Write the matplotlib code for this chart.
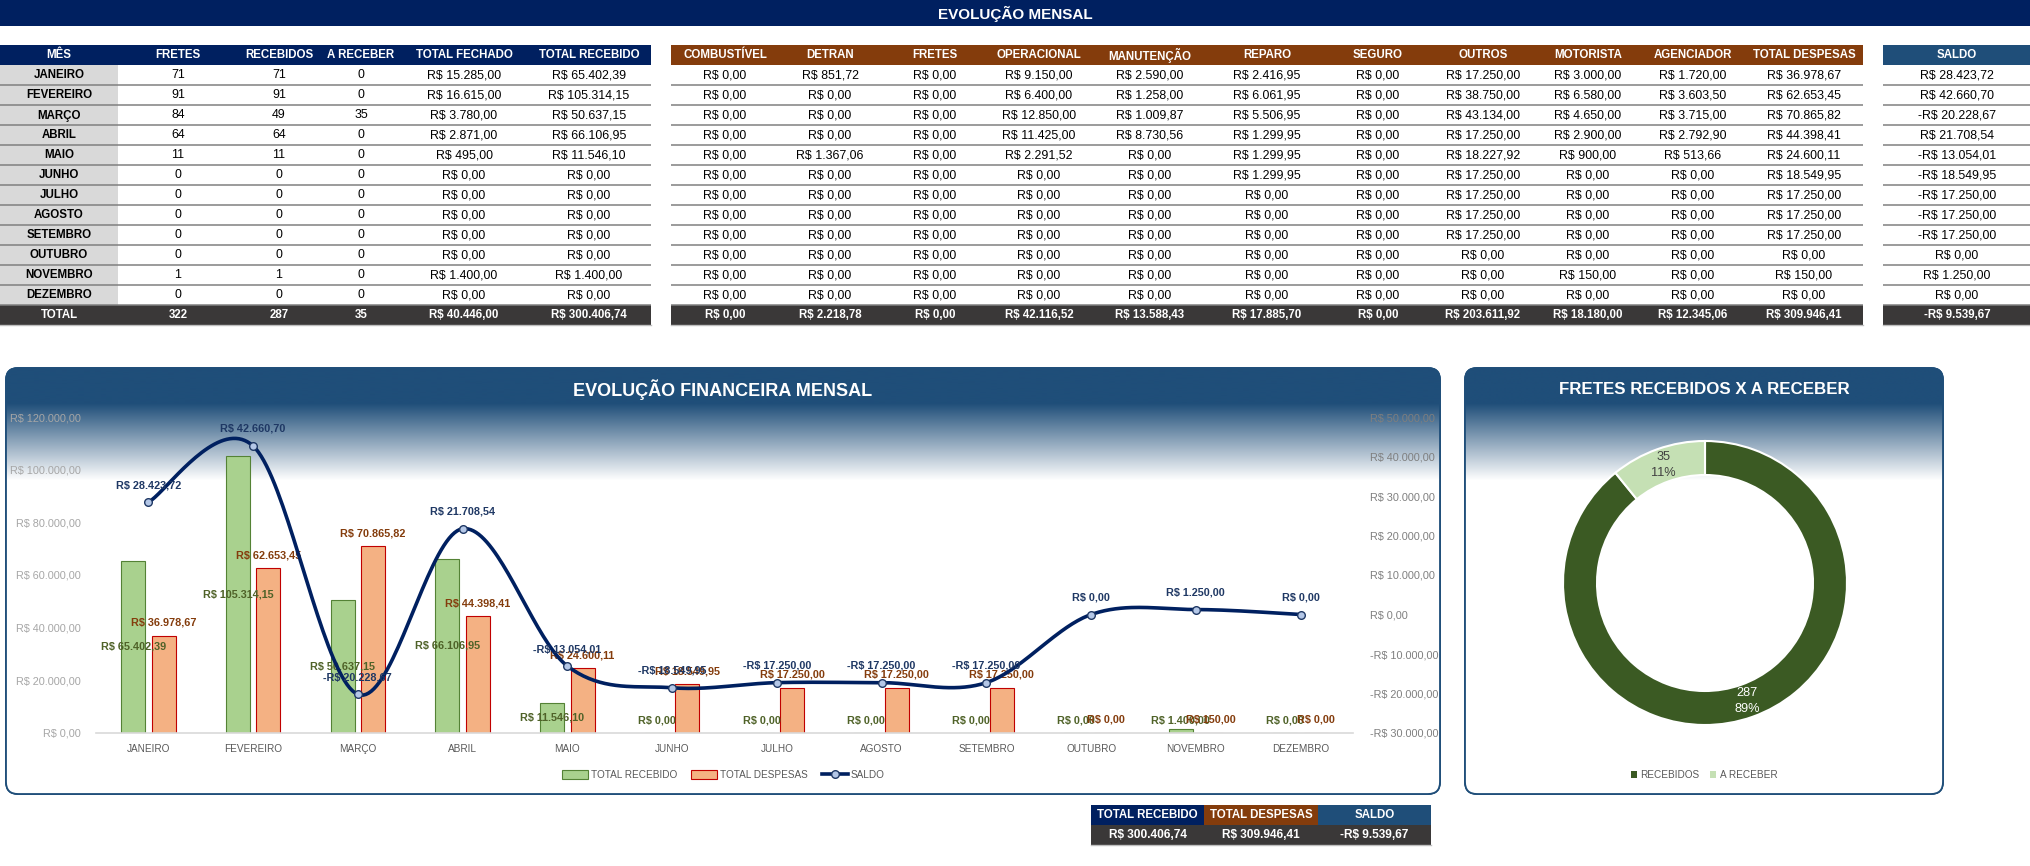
import numpy as np
import matplotlib
matplotlib.use("Agg")
import matplotlib.pyplot as plt
from matplotlib.patches import Rectangle, FancyBboxPatch, Patch
from matplotlib.lines import Line2D

plt.rcParams['font.family'] = ['Liberation Sans', 'DejaVu Sans']

# ---------------- DATA ----------------
meses = ["JANEIRO", "FEVEREIRO", "MARÇO", "ABRIL", "MAIO", "JUNHO", "JULHO",
         "AGOSTO", "SETEMBRO", "OUTUBRO", "NOVEMBRO", "DEZEMBRO"]
fretes = [71, 91, 84, 64, 11, 0, 0, 0, 0, 0, 1, 0]
recebidos = [71, 91, 49, 64, 11, 0, 0, 0, 0, 0, 1, 0]
a_receber = [0, 0, 35, 0, 0, 0, 0, 0, 0, 0, 0, 0]
total_fechado = [15285.00, 16615.00, 3780.00, 2871.00, 495.00, 0, 0, 0, 0, 0, 1400.00, 0]
total_recebido = [65402.39, 105314.15, 50637.15, 66106.95, 11546.10, 0, 0, 0, 0, 0, 1400.00, 0]

combustivel = [0] * 12
detran = [851.72, 0, 0, 0, 1367.06, 0, 0, 0, 0, 0, 0, 0]
fretes_desp = [0] * 12
operacional = [9150.00, 6400.00, 12850.00, 11425.00, 2291.52, 0, 0, 0, 0, 0, 0, 0]
manutencao = [2590.00, 1258.00, 1009.87, 8730.56, 0, 0, 0, 0, 0, 0, 0, 0]
reparo = [2416.95, 6061.95, 5506.95, 1299.95, 1299.95, 1299.95, 0, 0, 0, 0, 0, 0]
seguro = [0] * 12
outros = [17250.00, 38750.00, 43134.00, 17250.00, 18227.92, 17250.00, 17250.00,
          17250.00, 17250.00, 0, 0, 0]
motorista = [3000.00, 6580.00, 4650.00, 2900.00, 900.00, 0, 0, 0, 0, 0, 150.00, 0]
agenciador = [1720.00, 3603.50, 3715.00, 2792.90, 513.66, 0, 0, 0, 0, 0, 0, 0]
total_despesas = [36978.67, 62653.45, 70865.82, 44398.41, 24600.11, 18549.95,
                  17250.00, 17250.00, 17250.00, 0, 150.00, 0]
saldo = [28423.72, 42660.70, -20228.67, 21708.54, -13054.01, -18549.95,
         -17250.00, -17250.00, -17250.00, 0, 1250.00, 0]

donut_labels = ["RECEBIDOS", "A RECEBER"]
donut_values = [287, 35]

# ---------------- HELPERS ----------------
def brl(v):
    v = round(v, 2)
    s = f"{abs(v):,.2f}".replace(",", "X").replace(".", ",").replace("X", ".")
    return ("-" if v < 0 else "") + "R$ " + s

W, H = 2031, 866
fig = plt.figure(figsize=(W / 100, H / 100), dpi=100)
fig.patch.set_facecolor("white")

bg = fig.add_axes([0, 0, 1, 1], zorder=0)
bg.set_xlim(0, W)
bg.set_ylim(H, 0)
bg.axis("off")

NAVY = "#002060"
BROWN = "#843C0C"
BLUE = "#1F4E79"
DARK = "#3A3838"
LINEC = "#808080"

# banner
bg.add_patch(Rectangle((0, 0), W, 26, color=NAVY, lw=0))
bg.text(W / 2, 13.5, "EVOLUÇÃO MENSAL", color="white", fontsize=11, fontweight="bold",
        ha="center", va="center")

HDR_TOP, HDR_H, ROW_H = 45, 20, 20
FS_DATA = 8.9
FS_BOLD = 8.3


def draw_table(x0, x1, centers, headers, columns, hdr_color, bold_first=False,
               gray_first=None):
    bg.add_patch(Rectangle((x0, HDR_TOP), x1 - x0, HDR_H, color=hdr_color, lw=0))
    for c, h in zip(centers, headers):
        bg.text(c, HDR_TOP + HDR_H / 2 + 0.5, h, color="white", fontsize=FS_BOLD,
                fontweight="bold", ha="center", va="center")
    nrows = len(columns[0]) - 1
    for r in range(nrows + 1):
        top = HDR_TOP + HDR_H + r * ROW_H
        is_total = r == nrows
        if is_total:
            bg.add_patch(Rectangle((x0, top), x1 - x0, ROW_H, color=DARK, lw=0))
        elif gray_first is not None:
            bg.add_patch(Rectangle((x0, top), gray_first - x0, ROW_H, color="#D9D9D9", lw=0))
        for ci, (c, col) in enumerate(zip(centers, columns)):
            txt = col[r]
            bold = is_total or (bold_first and ci == 0)
            bg.text(c, top + ROW_H / 2 + 0.5, txt, color="white" if is_total else "black",
                    fontsize=FS_BOLD if bold else FS_DATA,
                    fontweight="bold" if bold else "normal",
                    ha="center", va="center")
        if not is_total:
            bg.plot([x0, x1], [top + ROW_H, top + ROW_H], color=LINEC, lw=1.1,
                    solid_capstyle="butt")
    bg.plot([x0, x1], [HDR_TOP + HDR_H + (nrows + 1) * ROW_H] * 2, color="#BFBFBF", lw=1.0)


def col_int(vals):
    return [str(v) for v in vals] + [str(sum(vals))]


def col_brl(vals):
    return [brl(v) for v in vals] + [brl(sum(vals))]


# table 1
draw_table(0, 651, [59, 178, 279, 361, 464, 589],
           ["MÊS", "FRETES", "RECEBIDOS", "A RECEBER", "TOTAL FECHADO", "TOTAL RECEBIDO"],
           [meses + ["TOTAL"], col_int(fretes), col_int(recebidos), col_int(a_receber),
            col_brl(total_fechado), col_brl(total_recebido)],
           NAVY, bold_first=True, gray_first=118)

# table 2
draw_table(671, 1863, [725, 830, 935, 1039, 1150, 1267, 1378, 1483, 1588, 1693, 1804],
           ["COMBUSTÍVEL", "DETRAN", "FRETES", "OPERACIONAL", "MANUTENÇÃO", "REPARO",
            "SEGURO", "OUTROS", "MOTORISTA", "AGENCIADOR", "TOTAL DESPESAS"],
           [col_brl(combustivel), col_brl(detran), col_brl(fretes_desp), col_brl(operacional),
            col_brl(manutencao), col_brl(reparo), col_brl(seguro), col_brl(outros),
            col_brl(motorista), col_brl(agenciador), col_brl(total_despesas)],
           BROWN)

# saldo table
draw_table(1883, 2031, [1957], ["SALDO"], [col_brl(saldo)], BLUE)


# ---------------- PANELS ----------------
def panel(x0, y0, x1, y1):
    p = FancyBboxPatch((x0, y0), x1 - x0, y1 - y0,
                       boxstyle="round,pad=0,rounding_size=12",
                       facecolor="white", edgecolor=BLUE, lw=1.3, zorder=1)
    bg.add_patch(p)
    n = 400
    ys = np.linspace(y0, y1, n)
    t = np.clip((ys - 403) / (480 - 403), 0, 1)
    top = np.array([0x1F, 0x4E, 0x79]) / 255.0
    cols = top[None, :] * (1 - t[:, None]) + np.ones(3)[None, :] * t[:, None]
    img = cols[:, None, :]
    im = bg.imshow(img, extent=(x0, x1, y1, y0), origin="upper", aspect="auto",
                   interpolation="bilinear", zorder=1.1)
    im.set_clip_path(p)
    p2 = FancyBboxPatch((x0, y0), x1 - x0, y1 - y0,
                        boxstyle="round,pad=0,rounding_size=12",
                        facecolor="none", edgecolor=BLUE, lw=1.3, zorder=1.2)
    bg.add_patch(p2)


panel(6, 368, 1440, 794)
panel(1465, 368, 1943, 794)
bg.text(723, 390, "EVOLUÇÃO FINANCEIRA MENSAL", color="white", fontsize=13,
        fontweight="bold", ha="center", va="center", zorder=3)
bg.text(1704, 390, "FRETES RECEBIDOS X A RECEBER", color="white", fontsize=12.2,
        fontweight="bold", ha="center", va="center", zorder=3)

# summary box
sx = [1091, 1204.3, 1317.7, 1431]
for i, (h, c, v) in enumerate(zip(["TOTAL RECEBIDO", "TOTAL DESPESAS", "SALDO"],
                                  [NAVY, BROWN, BLUE],
                                  [sum(total_recebido), sum(total_despesas), sum(saldo)])):
    bg.add_patch(Rectangle((sx[i], 805), sx[i + 1] - sx[i], 20, color=c, lw=0))
    bg.add_patch(Rectangle((sx[i], 825), sx[i + 1] - sx[i], 20, color=DARK, lw=0))
    xc = (sx[i] + sx[i + 1]) / 2
    bg.text(xc, 815.5, h, color="white", fontsize=8.3, fontweight="bold", ha="center", va="center")
    bg.text(xc, 835.5, brl(v), color="white", fontsize=8.6, fontweight="bold", ha="center", va="center")
bg.plot([1091, 1431], [845, 845], color="#BFBFBF", lw=1.0)

# ---------------- COMBO CHART ----------------
L, R, B, T = 96, 1353, 733, 417
ax = fig.add_axes([L / W, (H - B) / H, (R - L) / W, (B - T) / H], zorder=2)
ax.patch.set_alpha(0)
x = np.arange(len(meses))
bw, off = 0.23, 0.145
GREEN_F, GREEN_E = "#A9D18E", "#548235"
OR_F, OR_E = "#F4B183", "#C00000"
ax.bar(x - off, total_recebido, bw, color=GREEN_F, edgecolor=GREEN_E, lw=0.8, zorder=2)
ax.bar(x + off, total_despesas, bw, color=OR_F, edgecolor=OR_E, lw=0.8, zorder=2)
ax.set_xlim(-0.5, len(meses) - 0.5)
ax.set_ylim(0, 120000)
ax.set_yticks(np.arange(0, 120001, 20000))
ax.set_yticklabels([brl(v) for v in np.arange(0, 120001, 20000)])
ax.set_xticks(x)
ax.set_xticklabels(meses)
ax.tick_params(axis="y", length=0, pad=11, labelsize=7.8, labelcolor="#A6A6A6")
ax.tick_params(axis="x", length=0, pad=8, labelsize=7.2, labelcolor="#595959")
for s in ["top", "left", "right"]:
    ax.spines[s].set_visible(False)
ax.spines["bottom"].set_color("#D9D9D9")
ax.spines["bottom"].set_linewidth(1.2)

ax2 = ax.twinx()
ax2.patch.set_alpha(0)
ax2.set_ylim(-30000, 50000)
ax2.set_yticks(np.arange(-30000, 50001, 10000))
ax2.set_yticklabels([brl(v) for v in np.arange(-30000, 50001, 10000)])
ax2.tick_params(axis="y", length=0, pad=12, labelsize=7.8, labelcolor="#7F7F7F")
for s in ["top", "left", "right", "bottom"]:
    ax2.spines[s].set_visible(False)


def smooth(xs, ys, n=40):
    P = np.column_stack([xs, ys]).astype(float)
    P_ext = np.vstack([P[0], P, P[-1]])
    out = []
    for i in range(len(P) - 1):
        p0, p1, p2, p3 = P_ext[i], P_ext[i + 1], P_ext[i + 2], P_ext[i + 3]
        c1 = p1 + (p2 - p0) / 6.0
        c2 = p2 - (p3 - p1) / 6.0
        t = np.linspace(0, 1, n)[:, None]
        seg = ((1 - t) ** 3) * p1 + 3 * ((1 - t) ** 2) * t * c1 + 3 * (1 - t) * t ** 2 * c2 + t ** 3 * p2
        out.append(seg if i == 0 else seg[1:])
    S = np.vstack(out)
    return S[:, 0], S[:, 1]


sx_, sy_ = smooth(x, saldo)
ax2.plot(sx_, sy_, color=NAVY, lw=2.6, zorder=3, solid_capstyle="round")
ax2.plot(x, saldo, ls="none", marker="o", markersize=5.5, markerfacecolor="#B4C7E7",
         markeredgecolor="#1F3864", markeredgewidth=1.0, zorder=4)

LBL_FS = 7.8
for i, v in enumerate(total_recebido):
    ax.annotate(brl(v), (x[i] - off, max(v / 2, 4900)), ha="center", va="center",
                fontsize=LBL_FS, color="#4F6228", fontweight="bold", annotation_clip=False, zorder=5)
for i, v in enumerate(total_despesas):
    ax.annotate(brl(v), (x[i] + off, v), xytext=(0, 13), textcoords="offset pixels",
                ha="center", va="center", fontsize=LBL_FS, color=BROWN, fontweight="bold",
                annotation_clip=False, zorder=5)
for i, v in enumerate(saldo):
    ax2.annotate(brl(v), (x[i], v), xytext=(0, 17), textcoords="offset pixels",
                 ha="center", va="center", fontsize=LBL_FS, color="#1F3864", fontweight="bold",
                 annotation_clip=False, zorder=5)

handles = [Patch(facecolor=GREEN_F, edgecolor=GREEN_E, lw=0.8),
           Patch(facecolor=OR_F, edgecolor=OR_E, lw=0.8),
           Line2D([], [], color=NAVY, lw=2.6, marker="o", markersize=5.5,
                  markerfacecolor="#B4C7E7", markeredgecolor="#1F3864")]
fig.legend(handles, ["TOTAL RECEBIDO", "TOTAL DESPESAS", "SALDO"], loc="center",
           bbox_to_anchor=(723 / W, (H - 775) / H), ncol=3, frameon=False, fontsize=7.2,
           labelcolor="#595959", handlelength=2.6, handleheight=0.9, columnspacing=1.4,
           handletextpad=0.3)

# ---------------- DONUT ----------------
CX, CY, S = 1705, 583, 150
axd = fig.add_axes([(CX - S) / W, (H - CY - S) / H, 2 * S / W, 2 * S / H], zorder=2)
axd.patch.set_alpha(0)
total_fr = sum(donut_values)
wedges, _, autot = axd.pie(
    donut_values, colors=["#3B5A23", "#C5E0B4"], startangle=90, counterclock=False,
    radius=142 / S, wedgeprops=dict(width=34 / S, edgecolor="white", linewidth=1.5),
    autopct=lambda p: f"{int(round(p * total_fr / 100))}\n{p:.0f}%", pctdistance=0.88,
    textprops=dict(fontsize=9.2))
autot[0].set_color("white")
autot[1].set_color("#404040")
for t_ in autot:
    t_.set_linespacing(1.45)
axd.set_xlim(-1, 1)
axd.set_ylim(-1, 1)
axd.set_aspect("equal")
axd.axis("off")

fig.legend([Patch(facecolor="#3B5A23"), Patch(facecolor="#C5E0B4")], donut_labels,
           loc="center", bbox_to_anchor=(1704 / W, (H - 775) / H), ncol=2, frameon=False,
           fontsize=7.2, labelcolor="#595959", handlelength=0.6, handleheight=0.6,
           handletextpad=0.4, columnspacing=1.0)

fig.savefig("out.png", dpi=100)
